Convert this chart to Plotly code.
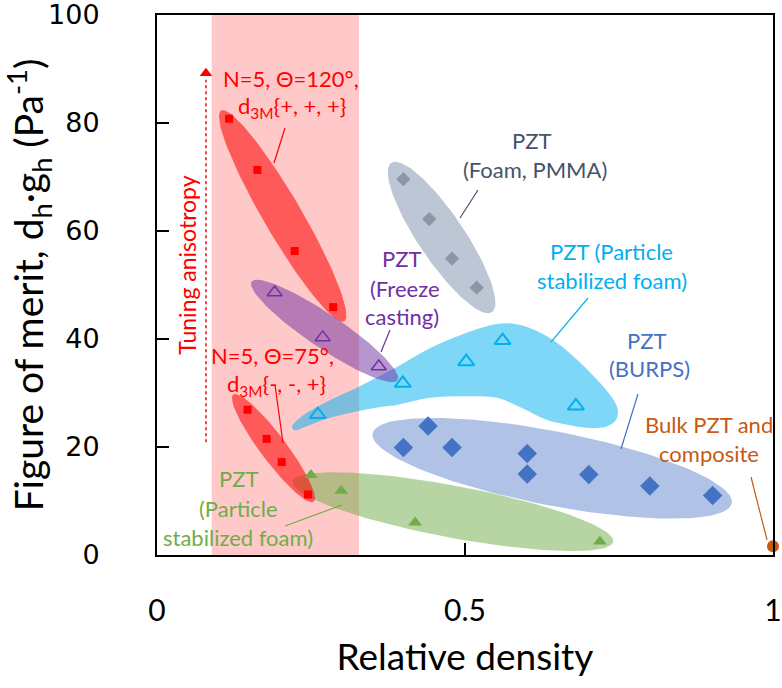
import numpy as np
import plotly.graph_objects as go

# ---------------- data ----------------
red_top_x = [0.117, 0.163, 0.2235, 0.286]
red_top_y = [80.8, 71.3, 56.3, 45.9]
red_low_x = [0.147, 0.178, 0.2024, 0.245]
red_low_y = [26.9, 21.5, 17.2, 11.2]
freeze_x = [0.191, 0.269, 0.360]
freeze_y = [48.6, 40.3, 34.9]
foam_pmma_x = [0.400, 0.442, 0.479, 0.519]
foam_pmma_y = [69.6, 62.2, 54.9, 49.5]
psf_cyan_x = [0.261, 0.399, 0.502, 0.561, 0.680]
psf_cyan_y = [26.0, 31.8, 35.8, 39.7, 27.6]
burps_x = [0.400, 0.440, 0.479, 0.601, 0.601, 0.701, 0.800, 0.902]
burps_y = [19.9, 23.9, 19.9, 18.8, 15.0, 14.9, 12.8, 11.0]
psf_green_x = [0.250, 0.299, 0.419, 0.719]
psf_green_y = [14.8, 11.9, 6.0, 2.5]
bulk_x = [1.0]
bulk_y = [1.6]

x_ticks = [0, 0.5, 1]
x_ticklabels = ["0", "0.5", "1"]
y_ticks = [0, 20, 40, 60, 80, 100]
y_ticklabels = ["0", "20", "40", "60", "80", "100"]

# ---------------- layout geometry ----------------
W, H = 782, 688
ML, MR, MT, MB = 157, 9, 15, 133
SX = (W - ML - MR) / 1.0      # px per x unit
SY = (H - MT - MB) / 100.0    # px per y unit

RED = "#FF0000"
PURPLE = "#7030A0"
GREY = "#44546A"
CYAN = "#00B0F0"
BLUE = "#4472C4"
GREEN = "#70AD47"
ORANGE = "#C55A11"
TXT_FONT = "Lato"

def ellipse(cx, cy, a, b, ang):
    t = np.linspace(0, 2 * np.pi, 120)
    u, v = a * np.cos(t), b * np.sin(t)
    th = np.radians(ang)
    dx = u * np.cos(th) - v * np.sin(th)
    dy = u * np.sin(th) + v * np.cos(th)
    return cx + dx / SX, cy - dy / SY

fig = go.Figure()

def add_region(xs, ys, color, opacity, smooth=False):
    fig.add_trace(go.Scatter(
        x=list(xs), y=list(ys), mode="lines", fill="toself",
        fillcolor=color, opacity=opacity,
        line=dict(width=0, color=color, shape="spline" if smooth else "linear"),
        hoverinfo="skip", showlegend=False))

# highlight regions
ex, ey = ellipse(0.4805, 8.02, 163, 26, 10.6)
add_region(ex, ey, GREEN, 0.5)
ex, ey = ellipse(0.6416, 16.06, 183, 37, 11)
add_region(ex, ey, BLUE, 0.42)
cyan_outline = [
    (0.219, 23.7), (0.232, 25.4), (0.253, 27.0), (0.281, 28.7), (0.330, 31.3),
    (0.378, 34.1), (0.443, 38.3), (0.492, 40.7), (0.524, 42.0), (0.552, 42.8),
    (0.581, 42.8), (0.606, 42.0), (0.643, 39.8), (0.687, 35.6), (0.719, 31.9),
    (0.739, 29.1), (0.748, 26.9), (0.745, 25.0), (0.732, 23.9), (0.711, 23.5),
    (0.687, 23.7), (0.654, 24.4), (0.633, 25.0), (0.589, 27.4), (0.552, 29.1),
    (0.497, 29.4), (0.443, 29.1), (0.390, 27.8), (0.362, 27.4), (0.281, 25.4),
    (0.240, 23.7), (0.224, 23.1), (0.219, 23.7)]
add_region([p[0] for p in cyan_outline], [p[1] for p in cyan_outline], CYAN, 0.5, smooth=True)
ex, ey = ellipse(0.462, 58.8, 90, 23, 56)
add_region(ex, ey, "#ADB9CA", 0.8)
ex, ey = ellipse(0.204, 62.8, 122, 19, 59.7)
add_region(ex, ey, RED, 0.55)
ex, ey = ellipse(0.189, 19.8, 67, 13, 53.1)
add_region(ex, ey, RED, 0.55)
ex, ey = ellipse(0.272, 41.5, 88, 17, 34)
add_region(ex, ey, PURPLE, 0.5)

# data points
def pts(xs, ys, symbol, color, size, lw=0, lc=None):
    fig.add_trace(go.Scatter(
        x=xs, y=ys, mode="markers", showlegend=False, cliponaxis=False,
        marker=dict(symbol=symbol, color=color, size=size,
                    line=dict(width=lw, color=lc or color))))

pts(psf_green_x, psf_green_y, "triangle-up", GREEN, 12)
pts(burps_x, burps_y, "diamond", BLUE, 15)
pts(psf_cyan_x, psf_cyan_y, "triangle-up-open", CYAN, 14, 2)
pts(foam_pmma_x, foam_pmma_y, "diamond", "#8C97A6", 11)
pts(red_top_x, red_top_y, "square", RED, 8)
pts(red_low_x, red_low_y, "square", RED, 8)
pts(freeze_x, freeze_y, "triangle-up-open", PURPLE, 13, 1.5)
pts(bulk_x, bulk_y, "circle", ORANGE, 12)

# tuning arrow head
fig.add_trace(go.Scatter(x=[0.0795], y=[89.2], mode="markers", showlegend=False,
                         marker=dict(symbol="triangle-up", color=RED, size=11),
                         hoverinfo="skip"))

shapes = [
    dict(type="rect", xref="x", yref="y", x0=0.0888, x1=0.328, y0=0, y1=100,
         fillcolor="rgb(255,201,201)", line=dict(width=0), layer="below"),
    dict(type="line", xref="x", yref="y", x0=0.0795, x1=0.0795, y0=20.9, y1=88,
         line=dict(color=RED, width=1.5, dash="3px,3px")),
]
leaders = [
    ((0.2078, 79.07), (0.190, 72.6), RED),
    ((0.1916, 31.48), (0.2045, 20.74), RED),
    ((0.2078, 5.37), (0.3003, 9.26), GREEN),
    ((0.3782, 41.67), (0.3636, 37.59), PURPLE),
    ((0.5211, 67.59), (0.4919, 62.41), GREY),
    ((0.6997, 47.59), (0.6396, 39.44), CYAN),
    ((0.7808, 29.81), (0.7532, 19.63), BLUE),
    ((0.9643, 14.44), (0.9903, 2.78), ORANGE),
]
for (a, b, c) in leaders:
    shapes.append(dict(type="line", xref="x", yref="y", x0=a[0], y0=a[1],
                       x1=b[0], y1=b[1], line=dict(color=c, width=1.2)))

texts = [
    ("N=5, Θ=120°,", 0.2175, 88.3, RED),
    ("d<sub>3M</sub>{+, +, +}", 0.2187, 83.0, RED),
    ("N=5, Θ=75°,", 0.1875, 37.0, RED),
    ("d<sub>3M</sub>{-, -, +}", 0.1932, 31.5, RED),
    ("PZT", 0.132, 14.2, GREEN),
    ("(Particle", 0.132, 8.6, GREEN),
    ("stabilized foam)", 0.132, 3.2, GREEN),
    ("PZT", 0.397, 54.9, PURPLE),
    ("(Freeze", 0.4026, 49.4, PURPLE),
    ("casting)", 0.397, 44.1, PURPLE),
    ("PZT", 0.608, 76.85, GREY),
    ("(Foam, PMMA)", 0.613, 71.3, GREY),
    ("PZT (Particle", 0.738, 56.2, CYAN),
    ("stabilized foam)", 0.738, 50.9, CYAN),
    ("PZT", 0.794, 39.8, BLUE),
    ("(BURPS)", 0.799, 34.6, BLUE),
    ("Bulk PZT and", 0.8966, 24.26, ORANGE),
    ("composite", 0.8966, 18.83, ORANGE),
]
annotations = [dict(text=t, x=x, y=y, xref="x", yref="y", showarrow=False,
                    font=dict(family=TXT_FONT, size=22, color=c),
                    xanchor="center", yanchor="middle")
               for (t, x, y, c) in texts]
annotations.append(dict(text="Tuning anisotropy", x=0.0482, y=53.7, xref="x", yref="y",
                        showarrow=False, textangle=-90,
                        font=dict(family=TXT_FONT, size=23, color=RED)))

fig.update_layout(
    width=W, height=H, margin=dict(l=ML, r=MR, t=MT, b=MB, autoexpand=False),
    autosize=False,
    plot_bgcolor="white", paper_bgcolor="white",
    shapes=shapes, annotations=annotations, showlegend=False,
    xaxis=dict(range=[0, 1], tickvals=x_ticks, ticktext=x_ticklabels,
               automargin=False,
               showgrid=False, zeroline=False, showline=True, linecolor="black",
               linewidth=2, mirror=True, ticks="inside", ticklen=12, tickwidth=2,
               tickcolor="black", ticklabelstandoff=28, ticklabeloverflow="allow",
               tickfont=dict(family=TXT_FONT, size=30, color="black"),
               title=dict(text="Relative density", standoff=18,
                          font=dict(family=TXT_FONT, size=37, color="black"))),
    yaxis=dict(range=[0, 100], tickvals=y_ticks, ticktext=y_ticklabels,
               automargin=False,
               showgrid=False, zeroline=False, showline=True, linecolor="black",
               linewidth=2, mirror=True, ticks="inside", ticklen=12, tickwidth=2,
               tickcolor="black", ticklabelstandoff=50, ticklabeloverflow="allow",
               tickfont=dict(family="DejaVu Sans", size=27, color="black"),
               title=dict(text="Figure of merit, d<sub>h</sub>·g<sub>h</sub> (Pa<sup>-1</sup>)",
                          standoff=4,
                          font=dict(family=TXT_FONT, size=39, color="black"))),
)

fig.write_html("out.html")
